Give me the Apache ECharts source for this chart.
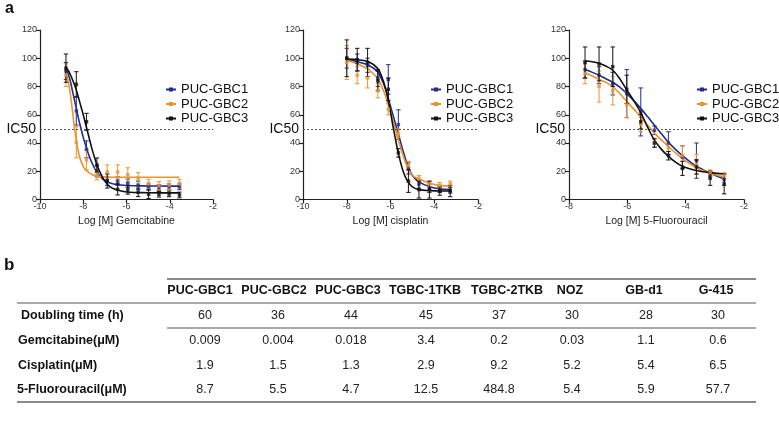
<!DOCTYPE html>
<html><head><meta charset="utf-8">
<script src="https://cdn.jsdelivr.net/npm/echarts@6/dist/echarts.min.js"></script>
<style>html,body{margin:0;padding:0;background:#fff}#c{width:779px;height:436px}</style>
</head><body><div id="c"></div>
<script>
// ---------- DATA ----------
const cellLines = ['PUC-GBC1', 'PUC-GBC2', 'PUC-GBC3'];
const seriesColors = ['#1f2d8c', '#ee922c', '#111111'];

// Gemcitabine (log M)
const gemDoseLog = [-8.8, -8.32, -7.85, -7.37, -6.89, -6.41, -5.94, -5.46, -4.98, -4.5, -4.03, -3.55];
const gemMean1 = [91, 62.7, 35.5, 20, 13, 13, 11.5, 10, 9, 8.5, 9, 9];
const gemSD1   = [6, 10, 6, 4, 3, 3, 3, 3, 2, 2, 2, 2];
const gemMean2 = [88, 40.5, 28, 18, 19.5, 19.5, 17.5, 15, 11.3, 9.7, 10.2, 11.3];
const gemSD2   = [8, 11, 7, 4, 5, 5, 5, 4, 3, 3, 3, 3];
const gemMean3 = [93, 81.5, 55, 24.4, 13.1, 7.2, 6.8, 5.1, 3.7, 3.7, 4, 3.2];
const gemSD3   = [10, 9, 6, 5, 5, 4, 3, 3, 3, 2, 2, 2];
const gemCurveX  = [-8.8, -8.7, -8.6, -8.5, -8.4, -8.3, -8.2, -8.1, -8.0, -7.9, -7.8, -7.6, -7.4, -7.2, -7.0, -6.8, -6.5, -6.0, -5.0, -4.0, -3.55];
const gemCurve1  = [93, 89, 84, 77, 70, 63, 56, 50, 44, 39, 34, 26, 20, 16, 13.3, 11.8, 10.6, 9.9, 9.6, 9.5, 9.5];
const gemCurve2  = [90, 84, 75, 63, 50, 40, 32, 27, 23.5, 21.3, 19.8, 17.7, 16.7, 16.2, 16, 15.8, 15.7, 15.7, 15.7, 15.7, 15.7];
const gemCurve3  = [93.5, 91.5, 88.5, 85, 81, 76.5, 71, 65.5, 60, 54, 48, 36, 26, 18.5, 13, 9.5, 7, 5.3, 4.8, 4.7, 4.7];

// Cisplatin (log M)
const cisDoseLog = [-8, -7.52, -7.05, -6.58, -6.1, -5.64, -5.18, -4.7, -4.22, -3.75, -3.27];
const cisMean1 = [100, 97, 95, 86, 85, 53, 22, 11, 8, 7, 6.5];
const cisSD1   = [7, 6, 5, 6, 10.5, 10.5, 4, 3, 3, 2, 2];
const cisMean2 = [97, 88, 86, 77, 64, 47, 24, 15, 11, 10, 11];
const cisSD2   = [12, 6, 7, 5, 4, 3, 3, 2, 2, 2, 2];
const cisMean3 = [100, 99, 97, 84, 78, 33, 13, 7, 7, 6, 6];
const cisSD3   = [13, 8, 10, 7, 8, 3, 8, 6, 6, 3, 4];
const cisCurveX = [-8, -7.5, -7, -6.6, -6.4, -6.2, -6.0, -5.9, -5.8, -5.7, -5.6, -5.4, -5.2, -5.0, -4.7, -4.2, -3.75, -3.27];
const cisCurve1 = [99, 97.5, 95, 90.5, 85, 77, 66, 60.5, 55, 49.5, 44, 33, 23.5, 17, 12.5, 9, 7.5, 7];
const cisCurve2 = [98.5, 96, 92, 86, 80, 72, 62, 56.5, 51, 45.5, 40, 30, 22, 17, 14.5, 11.5, 10, 9.5];
const cisCurve3 = [99.5, 99, 97.5, 93, 87, 77, 62, 53, 45, 37, 30, 19, 12.5, 9, 7, 6.3, 6, 6];

// 5-Fluorouracil (log M)
const fuDoseLog = [-7.45, -6.97, -6.5, -6.02, -5.54, -5.07, -4.59, -4.11, -3.63, -3.16, -2.68];
const fuMean1 = [92, 88, 82, 75, 62, 49, 40, 30, 27.5, 18, 14];
const fuSD1   = [6, 6, 8, 17, 17, 3, 8, 8, 12.5, 2, 4];
const fuMean2 = [89, 80, 77, 67, 53, 40, 37, 31, 25, 19, 17];
const fuSD2   = [7, 11, 10, 9, 5, 3, 3, 7, 7, 2, 2];
const fuMean3 = [97, 96, 94, 78, 55, 40, 31, 22, 23, 15, 11];
const fuSD3   = [11, 12, 14, 10, 5, 3, 3, 5, 5, 5, 7];
const fuCurveX = [-7.45, -7.2, -6.97, -6.74, -6.5, -6.26, -6.02, -5.78, -5.54, -5.3, -5.07, -4.83, -4.59, -4.35, -4.11, -3.87, -3.63, -3.4, -3.16, -2.92, -2.68];
const fuCurve1 = [92, 90, 88, 85.5, 83, 79.5, 75, 70, 64.5, 58.5, 52.5, 46.5, 40.5, 35.5, 31, 27, 23.5, 21, 18.5, 16.5, 14.5];
const fuCurve2 = [89.5, 87.5, 85, 83, 80, 75, 69.5, 64, 58.5, 52.5, 47, 42, 37.5, 33, 29, 25.5, 22.5, 20.3, 18.5, 17.2, 16];
const fuCurve3 = [98, 97.5, 96.5, 94.5, 91.5, 85.5, 77.5, 70, 61.5, 51, 42, 35.5, 30.5, 26.5, 23.5, 21.8, 20.5, 19.7, 19, 18.5, 18];

const xAxisTitles = ['Log [M] Gemcitabine', 'Log [M] cisplatin', 'Log [M] 5-Fluorouracil'];
const xAxisMin = [-10, -10, -8];
const ic50Level = 50;

// Table
const tableColumns = ['PUC-GBC1', 'PUC-GBC2', 'PUC-GBC3', 'TGBC-1TKB', 'TGBC-2TKB', 'NOZ', 'GB-d1', 'G-415'];
const rowLabels = ['Doubling time (h)', 'Gemcitabine(\u03bcM)', 'Cisplatin(\u03bcM)', '5-Fluorouracil(\u03bcM)'];
const doublingTime = ['60', '36', '44', '45', '37', '30', '28', '30'];
const gemIC50 = ['0.009', '0.004', '0.018', '3.4', '0.2', '0.03', '1.1', '0.6'];
const cisIC50 = ['1.9', '1.5', '1.3', '2.9', '9.2', '5.2', '5.4', '6.5'];
const fuIC50  = ['8.7', '5.5', '4.7', '12.5', '484.8', '5.4', '5.9', '57.7'];

// ---------- LAYOUT ----------
const FONT = '"Liberation Sans", Arial, sans-serif';
const gridLayout = [
  {left: 40, top: 30, width: 173, height: 169.5},
  {left: 303, top: 30, width: 175, height: 169.5},
  {left: 569, top: 30, width: 175, height: 169.5}
];
const legendLeft = [165, 430, 696];
const headerCX = [200, 274, 348, 425, 507, 570, 644, 716];
const valueCX  = [205, 278, 351, 426, 499, 572, 646, 718];
const headerY = 291, rowY = [316, 341, 365.5, 389.5];

const panels = [
  {dose: gemDoseLog, means: [gemMean1, gemMean2, gemMean3], sds: [gemSD1, gemSD2, gemSD3], cx: gemCurveX, curves: [gemCurve1, gemCurve2, gemCurve3]},
  {dose: cisDoseLog, means: [cisMean1, cisMean2, cisMean3], sds: [cisSD1, cisSD2, cisSD3], cx: cisCurveX, curves: [cisCurve1, cisCurve2, cisCurve3]},
  {dose: fuDoseLog, means: [fuMean1, fuMean2, fuMean3], sds: [fuSD1, fuSD2, fuSD3], cx: fuCurveX, curves: [fuCurve1, fuCurve2, fuCurve3]}
];

function errRender(color) {
  return function (params, api) {
    const x = api.value(0), lo = api.value(1), hi = api.value(2);
    const p1 = api.coord([x, hi]), p2 = api.coord([x, lo]);
    const w = 2.2;
    const st = {stroke: color, lineWidth: 1.1, opacity: 0.9};
    return {type: 'group', children: [
      {type: 'line', shape: {x1: p1[0], y1: p1[1], x2: p2[0], y2: p2[1]}, style: st},
      {type: 'line', shape: {x1: p1[0] - w, y1: p1[1], x2: p1[0] + w, y2: p1[1]}, style: st},
      {type: 'line', shape: {x1: p2[0] - w, y1: p2[1], x2: p2[0] + w, y2: p2[1]}, style: st}
    ]};
  };
}

const grids = [], xAxes = [], yAxes = [], series = [], legends = [], graphics = [];
panels.forEach((p, gi) => {
  grids.push(Object.assign({containLabel: false}, gridLayout[gi]));
  xAxes.push({
    type: 'value', gridIndex: gi, min: xAxisMin[gi], max: -2, interval: 2,
    axisLine: {show: true, onZero: false, lineStyle: {color: '#222', width: 1.2}},
    axisTick: {show: true, length: 4, lineStyle: {color: '#222', width: 1.2}},
    axisLabel: {fontSize: 9, color: '#333', margin: 3, fontFamily: FONT},
    splitLine: {show: false},
    name: xAxisTitles[gi], nameLocation: 'middle', nameGap: 16,
    nameTextStyle: {fontSize: 10.5, color: '#222', fontFamily: FONT}
  });
  yAxes.push({
    type: 'value', gridIndex: gi, min: 0, max: 120, interval: 20,
    axisLine: {show: true, lineStyle: {color: '#222', width: 1.2}},
    axisTick: {show: true, length: 4, lineStyle: {color: '#222', width: 1.2}},
    axisLabel: {fontSize: 9, color: '#333', margin: 3, fontFamily: FONT},
    splitLine: {show: false}
  });
  cellLines.forEach((name, si) => {
    const color = seriesColors[si];
    const curveData = p.cx.map((x, i) => [x, p.curves[si][i]]);
    const lineSeries = {
      type: 'line', name: name, xAxisIndex: gi, yAxisIndex: gi,
      data: curveData, smooth: 0.35, showSymbol: false, symbol: 'rect', symbolSize: 3,
      lineStyle: {color: color, width: 1.6}, itemStyle: {color: color},
      z: 3 + si
    };
    if (si === 0) {
      lineSeries.markLine = {
        silent: true, symbol: 'none', label: {show: false},
        lineStyle: {type: [2, 2], color: '#555', width: 1},
        data: [{yAxis: ic50Level}]
      };
    }
    series.push(lineSeries);
    series.push({
      type: 'custom', name: name, xAxisIndex: gi, yAxisIndex: gi,
      renderItem: errRender(color),
      encode: {x: 0, y: [1, 2]},
      data: p.dose.map((x, i) => [x, p.means[si][i] - p.sds[si][i], p.means[si][i] + p.sds[si][i]]),
      z: 3 + si
    });
    series.push({
      type: 'scatter', name: name, xAxisIndex: gi, yAxisIndex: gi,
      data: p.dose.map((x, i) => [x, p.means[si][i]]),
      symbol: 'rect', symbolSize: 3.5, itemStyle: {color: color},
      z: 4 + si
    });
  });
  legends.push({
    data: cellLines, orient: 'vertical', left: legendLeft[gi], top: 83, padding: 0,
    itemWidth: 10, itemHeight: 5, itemGap: 1.5, selectedMode: false,
    textStyle: {fontSize: 13, color: '#111', fontFamily: FONT}
  });
  graphics.push({
    type: 'text', right: 779 - gridLayout[gi].left + 4, top: 122,
    style: {text: 'IC50', font: '14px ' + FONT, fill: '#111'}
  });
});

// panel letters
graphics.push({type: 'text', left: 5, top: 1, style: {text: 'a', font: 'bold 16px ' + FONT, fill: '#111'}});
graphics.push({type: 'text', left: 4, top: 257, style: {text: 'b', font: 'bold 17px ' + FONT, fill: '#111'}});

// table
const lineSt = (w, c) => ({stroke: c, lineWidth: w});
graphics.push({type: 'line', shape: {x1: 167, y1: 279, x2: 756, y2: 279}, style: lineSt(1.8, '#8a8a8a')});
graphics.push({type: 'line', shape: {x1: 17, y1: 303, x2: 756, y2: 303}, style: lineSt(1.2, '#555')});
graphics.push({type: 'line', shape: {x1: 167, y1: 328, x2: 756, y2: 328}, style: lineSt(1.2, '#555')});
graphics.push({type: 'line', shape: {x1: 17, y1: 402, x2: 756, y2: 402}, style: lineSt(1.8, '#8a8a8a')});
tableColumns.forEach((c, i) => {
  graphics.push({type: 'text', x: headerCX[i], y: headerY,
    style: {text: c, font: 'bold 12.5px ' + FONT, fill: '#111', textAlign: 'center', textVerticalAlign: 'middle'}});
});
const tableRows = [doublingTime, gemIC50, cisIC50, fuIC50];
const labelX = [21, 18, 18, 17];
rowLabels.forEach((lab, r) => {
  graphics.push({type: 'text', x: labelX[r], y: rowY[r],
    style: {text: lab, font: 'bold 12.5px ' + FONT, fill: '#111', textAlign: 'left', textVerticalAlign: 'middle'}});
  tableRows[r].forEach((v, i) => {
    graphics.push({type: 'text', x: valueCX[i], y: rowY[r],
      style: {text: v, font: '12.5px ' + FONT, fill: '#222', textAlign: 'center', textVerticalAlign: 'middle'}});
  });
});

const chart = echarts.init(document.getElementById('c'), null, {renderer: 'canvas'});
chart.setOption({
  animation: false,
  backgroundColor: '#fff',
  textStyle: {fontFamily: FONT},
  grid: grids, xAxis: xAxes, yAxis: yAxes,
  legend: legends, series: series, graphic: graphics
});
</script></body></html>
